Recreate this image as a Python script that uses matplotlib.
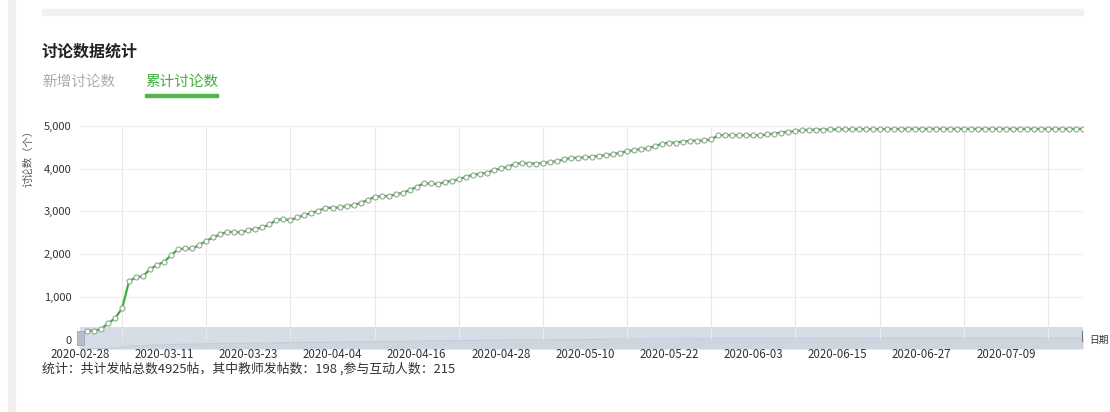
import numpy as np
import pandas as pd
import matplotlib
matplotlib.use("Agg")
import matplotlib.pyplot as plt
from matplotlib.patches import Rectangle

plt.rcParams['font.family'] = ['Noto Sans CJK SC', 'DejaVu Sans']

# ---- data ----
dates = pd.date_range('2020-02-28', '2020-07-20', freq='D').strftime('%Y-%m-%d').tolist()

cumulative = [
    90, 217, 217, 250, 390, 505, 739, 1375, 1460, 1490,
    1655, 1750, 1825, 1980, 2115, 2135, 2135, 2215, 2315, 2395,
    2465, 2525, 2518, 2510, 2565, 2595, 2625, 2695, 2797, 2820,
    2797, 2860, 2914, 2967, 3014, 3084, 3084, 3093, 3124, 3147,
    3200, 3263, 3340, 3357, 3357, 3396, 3434, 3497, 3574, 3652,
    3652, 3636, 3683, 3713, 3746, 3807, 3853, 3876, 3900, 3963,
    4002, 4040, 4110, 4126, 4118, 4118, 4126, 4149, 4172, 4212,
    4250, 4250, 4259, 4274, 4297, 4312, 4336, 4366, 4406, 4429,
    4452, 4476, 4522, 4584, 4600, 4607, 4630, 4645, 4650, 4655,
    4680, 4779, 4779, 4779, 4776, 4776, 4776, 4776, 4795, 4818,
    4841, 4856, 4872, 4895, 4905, 4908, 4910, 4912, 4914, 4916,
    4918, 4919, 4920, 4921, 4922, 4923, 4924, 4925, 4925, 4925,
    4925, 4925, 4925, 4925, 4925, 4925, 4925, 4925, 4925, 4925,
    4925, 4925, 4925, 4925, 4925, 4925, 4925, 4925, 4925, 4925,
    4925, 4925, 4925, 4925,
]

y_ticks = [0, 1000, 2000, 3000, 4000, 5000]
label_step = 12

title = '讨论数据统计'
tab_new = '新增讨论数'
tab_total = '累计讨论数'
y_name = '讨论数（个）'
x_name = '日期'
summary = '统计：共计发帖总数4925帖，其中教师发帖数：198 ,参与互动人数：215'

W, H = 1110, 412
green = '#3fae3a'

def fx(px):
    return px / W

def fy(py):
    return 1 - py / H

fig = plt.figure(figsize=(W / 100, H / 100), dpi=100)
fig.patch.set_facecolor('white')

# page decorations
fig.patches.append(Rectangle((fx(8), 0), fx(7), 1, transform=fig.transFigure,
                             color='#f0f0f0', zorder=0))
fig.patches.append(Rectangle((fx(42), fy(15)), fx(1083 - 42), 6 / H,
                             transform=fig.transFigure, color='#f1f1f1', zorder=0))

fig.text(fx(42), fy(52), title, fontsize=11.5, fontweight='bold', color='#222222', va='center')
fig.text(fx(42), fy(82), tab_new, fontsize=10.5, color='#aaaaaa', va='center')
fig.text(fx(145), fy(82), tab_total, fontsize=10.5, color=green, va='center')
fig.patches.append(Rectangle((fx(145), fy(97)), fx(73), 2.5 / H,
                             transform=fig.transFigure, color='#55b44a'))

x_left, x_right, y_top, y_bot = 80, 1083, 125.7, 340
x = np.arange(len(dates))

# data zoom slider (drawn first, under the line)
zx = fig.add_axes([fx(x_left), fy(349), fx(x_right - x_left), 22 / H], zorder=1)
zx.set_facecolor('#d6dde7')
shadow = np.array(cumulative) / max(cumulative) * 0.5
zx.fill_between(x, 0, shadow, color='#cdd5df', lw=0)
zx.plot(x, shadow, color='#c4ccd7', lw=0.8)
zx.set_xlim(0, len(dates) - 1)
zx.set_ylim(0, 1)
zx.set_xticks([])
zx.set_yticks([])
for s in zx.spines.values():
    s.set_visible(False)

# main chart
ax = fig.add_axes([fx(x_left), fy(y_bot), fx(x_right - x_left), (y_bot - y_top) / H], zorder=2)
ax.patch.set_visible(False)
ax.plot(x, cumulative, color=green, lw=1.6, marker='o', ms=3.6,
        mfc='white', mec='#8fa892', mew=0.8, zorder=3)
ax.set_xlim(0, len(dates) - 1)
ax.set_ylim(0, 5000)
ax.set_yticks(y_ticks)
ax.set_yticklabels(['{:,}'.format(v) for v in y_ticks], fontsize=8, color='#333333')
ax.set_xticks(x[::label_step])
ax.set_xticklabels(dates[::label_step], fontsize=8.3, color='#333333')
ax.set_xticks(x[label_step // 2::label_step], minor=True)
ax.tick_params(axis='both', which='both', length=0, pad=6)
ax.grid(axis='y', color='#eeeeee', lw=0.8)
ax.grid(axis='x', which='minor', color='#e8e8e8', lw=0.8)
for s in ax.spines.values():
    s.set_visible(False)
ax.set_axisbelow(True)

fig.text(fx(28), fy(156), y_name, fontsize=7.5, color='#555555', rotation=90,
         ha='center', va='center')
fig.text(fx(1089), fy(340), x_name, fontsize=7, color='#333333', va='center')

fig.patches.append(Rectangle((fx(77), fy(345)), fx(7), 14 / H, transform=fig.transFigure,
                             facecolor='#b3bfcd', edgecolor='#9aa8b8', lw=0.6, zorder=5))
fig.lines.append(plt.Line2D([fx(1082), fx(1082)], [fy(341), fy(331)],
                            transform=fig.transFigure, color='#777777', lw=0.8))

fig.text(fx(42), fy(369), summary, fontsize=9.3, color='#333333', va='center')

fig.savefig('out.png', dpi=100)
